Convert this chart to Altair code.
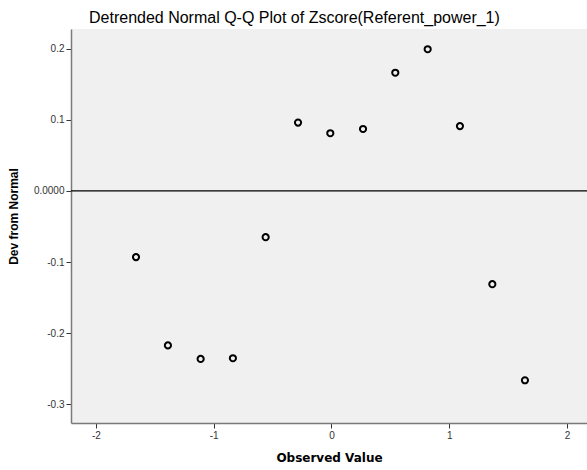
import altair as alt
import pandas as pd

observed = [-1.66, -1.389, -1.111, -0.837, -0.559, -0.284, -0.01, 0.268, 0.542, 0.817, 1.091, 1.366, 1.643]
deviation = [-0.093, -0.217, -0.236, -0.235, -0.065, 0.096, 0.081, 0.087, 0.166, 0.199, 0.091, -0.131, -0.266]
x_ticks = [-2, -1, 0, 1, 2]
y_ticks = [-0.3, -0.2, -0.1, 0.0, 0.1, 0.2]

df = pd.DataFrame({"observed": observed, "deviation": deviation})
zero = pd.DataFrame({"y": [0.0]})

FONT = "Arial, Liberation Sans, sans-serif"

xscale = alt.Scale(domain=[-2.212, 2.17], nice=False, zero=False)
yscale = alt.Scale(domain=[-0.326, 0.2274], nice=False, zero=False)

points = alt.Chart(df).mark_point(
    shape="circle", filled=False, color="black", strokeWidth=2, size=38, opacity=1
).encode(
    x=alt.X("observed:Q", scale=xscale, title="Observed Value",
            axis=alt.Axis(values=x_ticks, labelExpr="replace(datum.label, '\u2212', '-')",
                          titleFont="DejaVu Sans", titleFontSize=12)),
    y=alt.Y("deviation:Q", scale=yscale, title="Dev from Normal",
            axis=alt.Axis(values=y_ticks, titleY=187, titleAlign="center",
                          labelExpr="datum.value == 0 ? '0.0000' : replace(format(datum.value, '.1f'), '\u2212', '-')")),
)

zline = alt.Chart(zero).mark_rule(color="black", strokeWidth=1.3).encode(
    y=alt.Y("y:Q", scale=yscale)
)

chart = alt.layer(zline, points).properties(
    width=516, height=394,
    title=alt.TitleParams(
        "Detrended Normal Q-Q Plot of Zscore(Referent_power_1)",
        anchor="start", frame="group", dx=18, offset=3,
        font=FONT, fontSize=16, fontWeight="normal", color="black",
    ),
    padding={"left": 71, "top": 29, "right": 0, "bottom": 47},
    autosize=alt.AutoSizeParams(type="none"),
).configure_view(
    fill="#F0F0F0", stroke=None
).configure_axis(
    grid=False,
    domainColor="#7a7a7a", domainWidth=1.5,
    tickColor="#333333", tickSize=5, tickWidth=1,
    labelFont=FONT, labelFontSize=10, labelColor="#333333",
    titleFont=FONT, titleFontSize=12, titleFontWeight="bold", titleColor="black",
).configure_axisX(
    labelPadding=2, titlePadding=12,
).configure_axisY(
    labelPadding=2, titlePadding=13,
)

chart.save("out.html", embed_options={"renderer": "svg", "actions": False})
